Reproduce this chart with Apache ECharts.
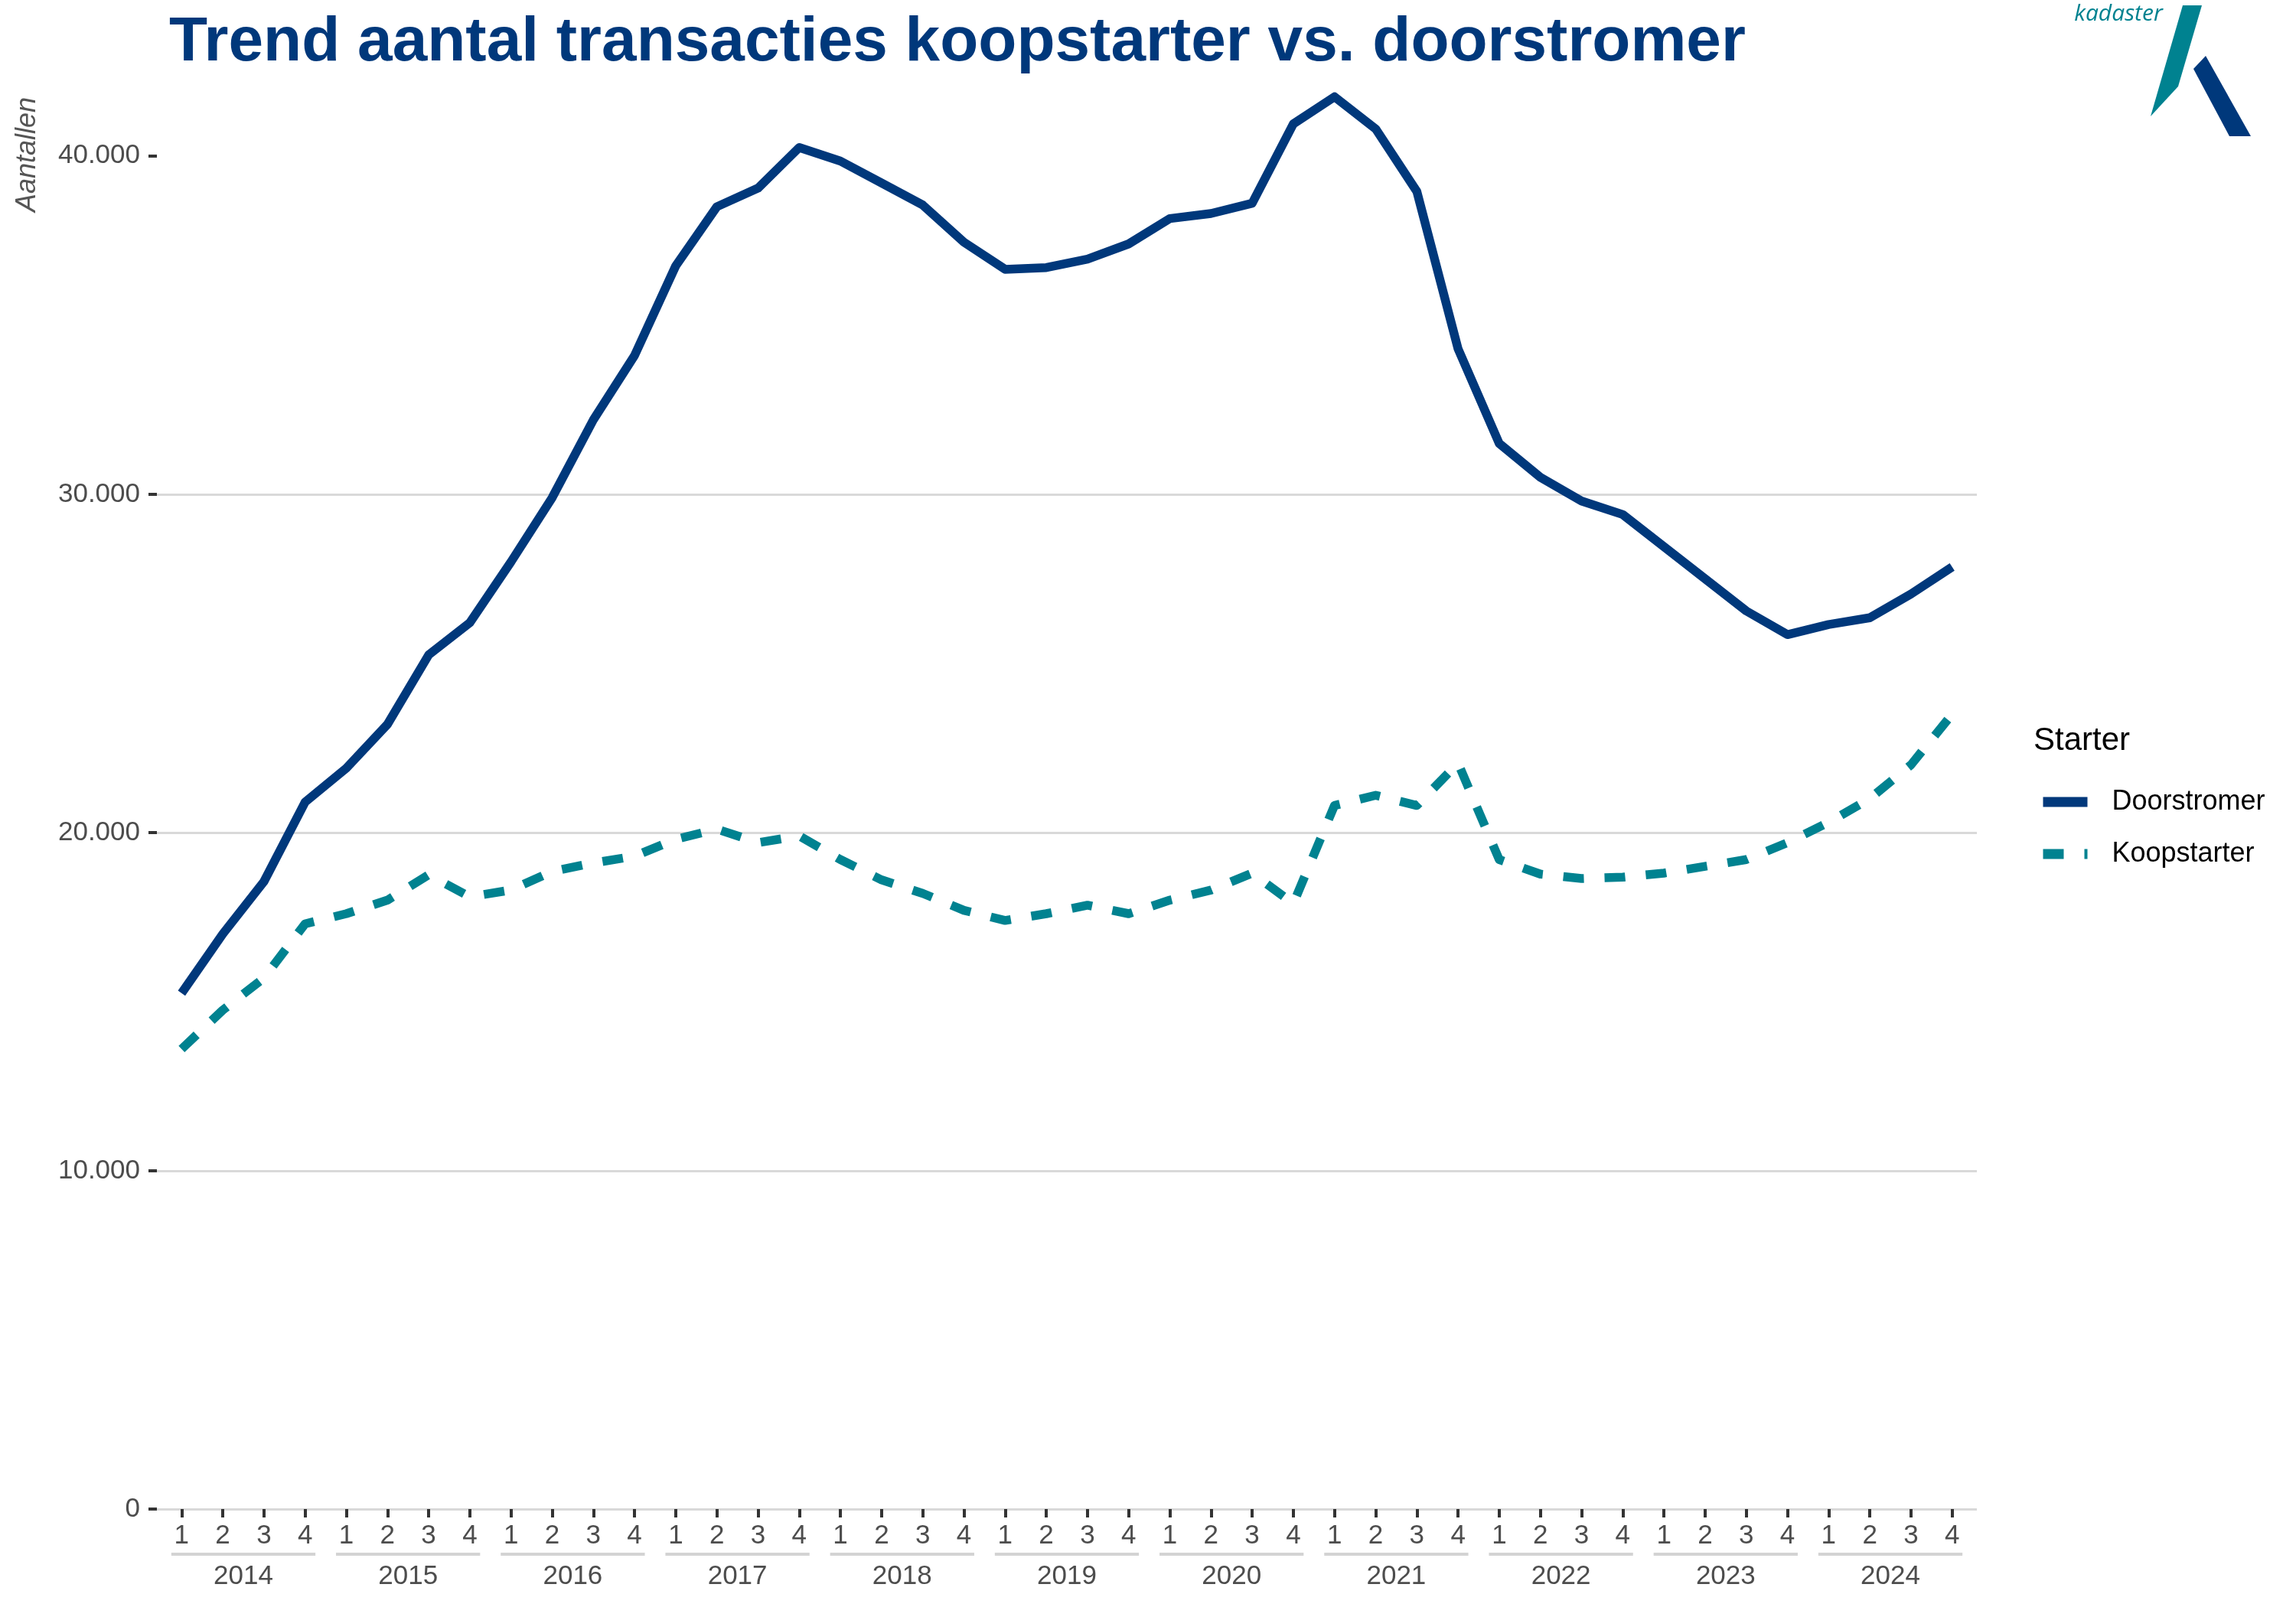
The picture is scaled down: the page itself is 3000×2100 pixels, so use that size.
<!DOCTYPE html>
<html>
<head>
<meta charset="utf-8">
<script src="https://cdn.jsdelivr.net/npm/echarts@6/dist/echarts.min.js"></script>
<style>html,body{margin:0;padding:0;background:#fff}#c{width:3000px;height:2100px}</style>
</head>
<body>
<div id="c"></div>
<script>
const years = ['2014','2015','2016','2017','2018','2019','2020','2021','2022','2023','2024'];
const quarters = ['1','2','3','4'];
const doorstromer = [15250,17000,18550,20900, 21900,23200,25250,26200, 28000,29900,32200,34100,
  36750,38500,39050,40250, 39850,39200,38550,37450, 36650,36700,36950,37400,
  38150,38300,38600,40950, 41750,40800,38950,34300, 31500,30500,29800,29400,
  28450,27500,26550,25850, 26150,26350,27050,27850];
const koopstarter = [13600,14750,15700,17300, 17600,18000,18750,18100, 18300,18850,19100,19300,
  19800,20100,19700,19900, 19200,18600,18200,17700, 17400,17600,17850,17600,
  18000,18300,18800,17900, 20800,21100,20800,22050, 19200,18770,18640,18680,
  18800,19000,19200,19700, 20300,21000,22000,23500];
const yTicks = [0,10000,20000,30000,40000];

const quarterLabels = [];
years.forEach(() => quarters.forEach(q => quarterLabels.push(q)));
const idx = quarterLabels.map((_, i) => i);
const yearCenters = years.map((_, i) => i * 4 + 1.5);
const yearSpans = years.map((_, i) => [i * 4 - 0.25, i * 4 + 3.25]);

const FONT = 'Liberation Sans, Arial, sans-serif';
const BLUE = '#00387B';
const TEAL = '#008290';
const LABEL = '#4D4D4D';

const chart = echarts.init(document.getElementById('c'), null, {renderer: 'canvas'});
chart.setOption({
  animation: false,
  backgroundColor: '#fff',
  textStyle: {fontFamily: FONT},
  title: [
    {text: 'Trend aantal transacties koopstarter vs. doorstromer', left: 216, top: 10,
     textStyle: {fontFamily: FONT, fontSize: 82, fontWeight: 'bold', color: BLUE}},
    {text: 'Starter', left: 2652, top: 942,
     textStyle: {fontFamily: FONT, fontSize: 42, fontWeight: 'normal', color: '#000'}}
  ],
  legend: {
    data: ['Doorstromer', 'Koopstarter'],
    orient: 'vertical', left: 2658, top: 1025,
    itemWidth: 58, itemHeight: 40, itemGap: 32,
    lineStyle: {width: 13},
    itemStyle: {color: 'rgba(0,0,0,0)', borderWidth: 0, opacity: 0},
    textStyle: {fontFamily: FONT, fontSize: 36, color: '#000', padding: [0, 0, 0, 27]},
    selectedMode: false
  },
  grid: {left: 205, right: 417, top: 27, bottom: 128, containLabel: false},
  xAxis: [
    {type: 'value', min: -0.6, max: 43.6, position: 'bottom',
     axisLine: {show: false, onZero: false},
     splitLine: {show: false},
     axisTick: {show: true, customValues: idx, length: 11, lineStyle: {color: '#333', width: 4}},
     axisLabel: {customValues: idx, formatter: v => quarterLabels[Math.round(v)],
       fontFamily: FONT, fontSize: 35, color: LABEL, margin: 18}},
    {type: 'value', min: -0.6, max: 43.6, position: 'bottom',
     axisLine: {show: false, onZero: false}, splitLine: {show: false}, axisTick: {show: false},
     axisLabel: {customValues: yearCenters, formatter: v => years[Math.round((v - 1.5) / 4)],
       fontFamily: FONT, fontSize: 35, color: LABEL, margin: 71}}
  ],
  yAxis: {
    type: 'value', min: 0, max: 44000, interval: 10000,
    axisLine: {show: false, onZero: false},
    axisTick: {show: true, customValues: yTicks, length: 11, lineStyle: {color: '#333', width: 4}},
    splitLine: {show: true, showMaxLine: false, lineStyle: {color: '#D9D9D9', width: 3}},
    axisLabel: {customValues: yTicks, fontFamily: FONT, fontSize: 35, color: LABEL, margin: 22,
      formatter: v => v.toString().replace(/\B(?=(\d{3})+(?!\d))/g, '.')}
  },
  graphic: [
    {type: 'text', x: 36, y: 202, rotation: Math.PI / 2,
     style: {text: 'Aantallen', font: 'italic 36px ' + FONT, fill: '#555', align: 'center', verticalAlign: 'middle'}},
    {type: 'text', x: 2768, y: 18,
     style: {text: 'kadaster', font: 'italic 30px "Open Sans", sans-serif', fill: TEAL, align: 'center', verticalAlign: 'middle'}},
    {type: 'polygon', shape: {points: [[2852, 7], [2877, 7], [2846, 113], [2810, 152]]}, style: {fill: TEAL}},
    {type: 'polygon', shape: {points: [[2882, 73], [2941, 178], [2913, 178], [2866, 90]]}, style: {fill: BLUE}}
  ],
  series: [
    {name: 'Doorstromer', type: 'line', data: doorstromer.map((v, i) => [i, v]),
     symbol: 'none', showSymbol: false, color: BLUE,
     lineStyle: {color: BLUE, width: 11.5, join: 'round', cap: 'butt'}},
    {name: 'Koopstarter', type: 'line', data: koopstarter.map((v, i) => [i, v]),
     symbol: 'none', showSymbol: false, color: TEAL,
     lineStyle: {color: TEAL, width: 11.5, type: [27, 27], join: 'round', cap: 'butt'}},
    {name: 'yearbars', type: 'custom', data: yearSpans, clip: false, silent: true,
     encode: {x: [0, 1]},
     renderItem: (params, api) => {
       const a = api.coord([api.value(0), 0]);
       const b = api.coord([api.value(1), 0]);
       return {type: 'rect', shape: {x: a[0], y: a[1] + 57, width: b[0] - a[0], height: 4},
               style: {fill: '#D3D3D3'}};
     }}
  ]
});
</script>
</body>
</html>
